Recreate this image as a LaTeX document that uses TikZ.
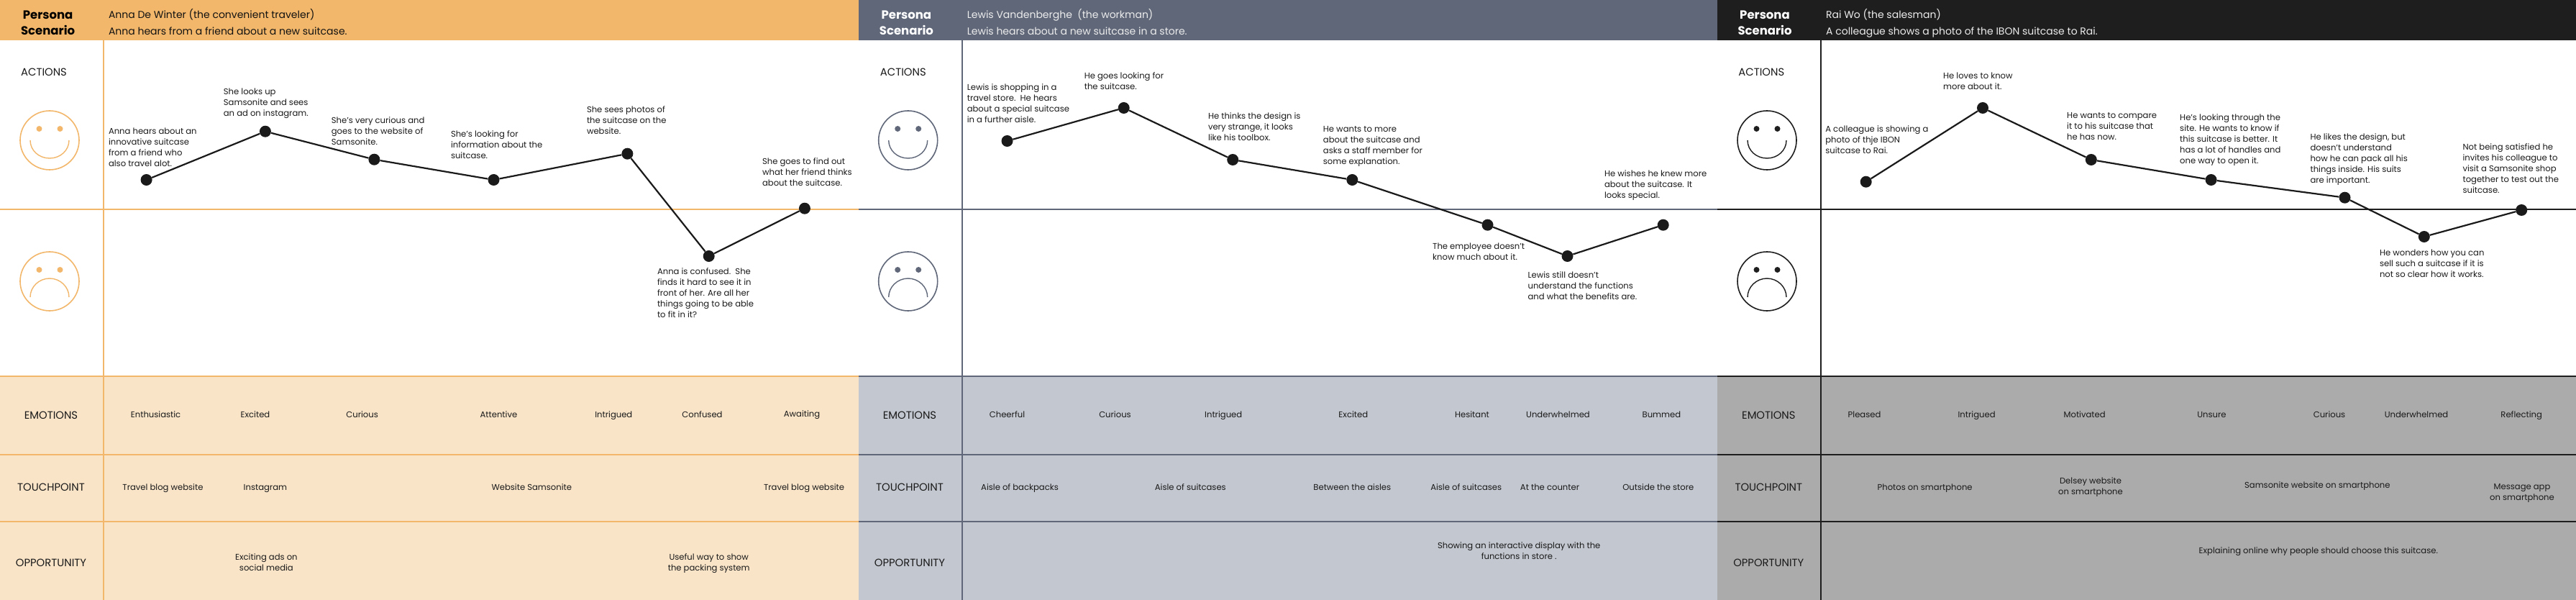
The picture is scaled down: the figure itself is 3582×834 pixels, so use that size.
\documentclass[tikz,border=0pt]{standalone}
\usepackage{fontspec}
\setmainfont{Poppins}
\definecolor{oMain}{HTML}{F2B76A}
\definecolor{oLight}{HTML}{F9E4C8}
\definecolor{gMain}{HTML}{5F6779}
\definecolor{gLight}{HTML}{C3C7CF}
\definecolor{kMain}{HTML}{1E1E1E}
\definecolor{kLight}{HTML}{ABABAB}
\definecolor{ink}{HTML}{1A1A1A}
\tikzset{
  txt/.style={anchor=north west,inner sep=0pt,align=left,text=ink,font=\fontsize{11.6}{15}\selectfont,execute at begin node=\strut},
  ctr/.style={anchor=center,inner sep=0pt,align=center,text=ink,font=\fontsize{11.6}{15}\selectfont,execute at begin node=\strut,execute at end node=\strut},
  rowlabel/.style={anchor=center,inner sep=0pt,align=center,text=ink,font=\fontsize{14.8}{18}\selectfont},
  perso/.style={anchor=center,inner sep=0pt,font=\fontsize{16.5}{20}\selectfont\bfseries,execute at begin node=\strut},
  headtxt/.style={anchor=west,inner sep=0pt,font=\fontsize{14}{18}\selectfont,execute at begin node=\strut},
  dot/.style={circle,fill=ink,inner sep=0pt,minimum size=16pt},
  conn/.style={draw=ink,line width=2.2pt},
  grid/.style={line width=2.2pt},
  vgrid/.style={line width=1.5pt},
  facering/.style={circle,draw,fill=white,line width=1.6pt,inner sep=0pt,minimum size=82pt},
  eye/.style={circle,inner sep=0pt,minimum size=8pt},
  mouth/.style={line width=1.4pt}
}
\newcommand{\jpanel}[5]{%
  \fill[#5] (#1,523) rectangle (#2,834);
  \fill[#4] (#1,0) rectangle (#2,56);
  \draw[vgrid,#4] (#3,56) -- (#3,834);
  \foreach \yy in {291,523,632,725} {\draw[grid,#4] (#1,\yy) -- (#2,\yy);}
}
\newcommand{\faces}[3]{%
  \begin{scope}[shift={(#1,0)}]
    \node[facering,draw=#2] (#3hA) at (0,195) {};
    \node[eye,fill=#2] (#3eA) at (-14.5,179) {};
    \node[eye,fill=#2] (#3eB) at (14.5,179) {};
    \draw[mouth,#2] (-27,195) .. controls (-27,209) and (-15,220) .. (0,220) .. controls (15,220) and (27,209) .. (27,195);
    \node[facering,draw=#2] (#3hB) at (0,391) {};
    \node[eye,fill=#2] (#3eC) at (-14.5,375) {};
    \node[eye,fill=#2] (#3eD) at (14.5,375) {};
    \draw[mouth,#2] (-27,413) .. controls (-27,399) and (-15,387) .. (0,387) .. controls (15,387) and (27,399) .. (27,413);
  \end{scope}
}
\newcommand{\labels}[8]{%
  \node[perso,text=#4] (#8pe) at (#1,22.5) {Persona};
  \node[perso,text=#4] (#8sc) at (#1,44.5) {Scenario};
  \node[headtxt,text=#4!85!gray] (#8hA) at (#5,22) {#6};
  \node[headtxt,text=#4!85!gray] (#8hB) at (#5,45) {#7};
  \node[rowlabel] (#8ac) at (#2,100) {ACTIONS};
  \node[rowlabel] (#8em) at (#3,577) {EMOTIONS};
  \node[rowlabel] (#8to) at (#3,677) {TOUCHPOINT};
  \node[rowlabel] (#8op) at (#3,782) {OPPORTUNITY};
}
\begin{document}
\begin{tikzpicture}[x=1pt,y=-1pt]
\useasboundingbox (0,0) rectangle (3582,834);
\fill[white] (0,0) rectangle (3582,834);
\jpanel{0}{1194}{144}{oMain}{oLight}
\jpanel{1194}{2388}{1338}{gMain}{gLight}
\jpanel{2388}{3582}{2532}{kMain}{kLight}
\faces{69}{oMain}{fa}
\faces{1262.7}{gMain}{fb}
\faces{2457}{kMain}{fc}
\labels{66.6}{61}{71}{black}{150.8}{Anna De Winter (the convenient traveler)}{Anna hears from a friend about a new suitcase.}{la}
\labels{1260.4}{1255.8}{1265}{white}{1344.6}{Lewis Vandenberghe\ \ (the workman)}{Lewis hears about a new suitcase in a store.}{lb}
\labels{2454}{2449.3}{2459.3}{white}{2538.9}{Rai Wo (the salesman)}{A colleague shows a photo of the IBON suitcase to Rai.}{lc}

% panel 1 curve
\node[dot] (a1) at (203.6,250) {};
\node[dot] (a2) at (368.9,182.7) {};
\node[dot] (a3) at (520.4,221.7) {};
\node[dot] (a4) at (686.5,250) {};
\node[dot] (a5) at (872.4,213.7) {};
\node[dot] (a6) at (985.7,356) {};
\node[dot] (a7) at (1118.9,289.7) {};
\draw[conn] (a1)--(a2); \draw[conn] (a2)--(a3); \draw[conn] (a3)--(a4); \draw[conn] (a4)--(a5); \draw[conn] (a5)--(a6); \draw[conn] (a6)--(a7);
\node[txt] (at1) at (150.8,177.5) {Anna hears about an\\innovative suitcase\\from a friend who\\also travel alot.};
\node[txt] (at2) at (310.7,122.5) {She looks up\\Samsonite and sees\\an ad on instagram.};
\node[txt] (at3) at (460.7,162.5) {She's very curious and\\goes to the website of\\Samsonite.};
\node[txt] (at4) at (626.8,181.5) {She's looking for\\information about the\\suitcase.};
\node[txt] (at5) at (815.8,147.5) {She sees photos of\\the suitcase on the\\website.};
\node[txt] (at6) at (913.8,372.5) {Anna is confused.\ \ She\\finds it hard to see it in\\front of her. Are all her\\things going to be able\\to fit in it?};
\node[txt] (at7) at (1059.9,219.2) {She goes to find out\\what her friend thinks\\about the suitcase.};
\node[ctr] (ae1) at (216.6,577) {Enthusiastic};
\node[ctr] (ae2) at (355,577) {Excited};
\node[ctr] (ae3) at (503.6,577) {Curious};
\node[ctr] (ae4) at (693.4,577) {Attentive};
\node[ctr] (ae5) at (853.3,577) {Intrigued};
\node[ctr] (ae6) at (976.5,577) {Confused};
\node[ctr] (ae7) at (1115,576) {Awaiting};
\node[ctr] (ap1) at (226.5,678) {Travel blog website};
\node[ctr] (ap2) at (368.9,678) {Instagram};
\node[ctr] (ap3) at (739.3,678) {Website Samsonite};
\node[ctr] (ap4) at (1118.1,678) {Travel blog website};
\node[ctr] (ao1) at (370.4,783.5) {Exciting ads on\\social media};
\node[ctr] (ao2) at (985.7,783.5) {Useful way to show\\the packing system};

% panel 2 curve
\node[dot] (b1) at (1400.5,196) {};
\node[dot] (b2) at (1562.7,150) {};
\node[dot] (b3) at (1714.2,222) {};
\node[dot] (b4) at (1880.3,250) {};
\node[dot] (b5) at (2068.5,312.7) {};
\node[dot] (b6) at (2179.5,356) {};
\node[dot] (b7) at (2312.7,312.7) {};
\draw[conn] (b1)--(b2); \draw[conn] (b2)--(b3); \draw[conn] (b3)--(b4); \draw[conn] (b4)--(b5); \draw[conn] (b5)--(b6); \draw[conn] (b6)--(b7);
\node[txt] (bt1) at (1344.6,116.5) {Lewis is shopping in a\\travel store.\ \ He hears\\about a special suitcase\\in a further aisle.};
\node[txt] (bt2) at (1507.6,100.5) {He goes looking for\\the suitcase.};
\node[txt] (bt3) at (1679.8,156.2) {He thinks the design is\\very strange, it looks\\like his toolbox.};
\node[txt] (bt4) at (1839.7,175.5) {He wants to more\\about the suitcase and\\asks a staff member for\\some explanation.};
\node[txt] (bt5) at (1992,337.5) {The employee doesn't\\know much about it.};
\node[txt] (bt6) at (2124.4,377.5) {Lewis still doesn't\\understand the functions\\and what the benefits are.};
\node[txt] (bt7) at (2230.8,236.5) {He wishes he knew more\\about the suitcase. It\\looks special.};
\node[ctr] (be1) at (1400.5,577) {Cheerful};
\node[ctr] (be2) at (1550.5,577) {Curious};
\node[ctr] (be3) at (1701.2,577) {Intrigued};
\node[ctr] (be4) at (1881.8,577) {Excited};
\node[ctr] (be5) at (2047,577) {Hesitant};
\node[ctr] (be6) at (2166.5,577) {Underwhelmed};
\node[ctr] (be7) at (2310.4,577) {Bummed};
\node[ctr] (bp1) at (1418,678) {Aisle of backpacks};
\node[ctr] (bp2) at (1655.3,678) {Aisle of suitcases};
\node[ctr] (bp3) at (1880.3,678) {Between the aisles};
\node[ctr] (bp4) at (2038.7,678) {Aisle of suitcases};
\node[ctr] (bp5) at (2155,678) {At the counter};
\node[ctr] (bp6) at (2305.8,678) {Outside the store};
\node[ctr] (bo1) at (2112.2,767.5) {Showing an interactive display with the\\functions in store .};

% panel 3 curve
\node[dot] (c1) at (2594.7,252.7) {};
\node[dot] (c2) at (2757,150) {};
\node[dot] (c3) at (2907.8,222) {};
\node[dot] (c4) at (3074.6,250) {};
\node[dot] (c5) at (3260.5,274.7) {};
\node[dot] (c6) at (3370.8,329) {};
\node[dot] (c7) at (3506.2,292) {};
\draw[conn] (c1)--(c2); \draw[conn] (c2)--(c3); \draw[conn] (c3)--(c4); \draw[conn] (c4)--(c5); \draw[conn] (c5)--(c6); \draw[conn] (c6)--(c7);
\node[txt] (ct1) at (2538.1,174.5) {A colleague is showing a\\photo of thje IBON\\suitcase to Rai.};
\node[txt] (ct2) at (2701.9,100.5) {He loves to know\\more about it.};
\node[txt] (ct3) at (2874,156.5) {He wants to compare\\it to his suitcase that\\he has now.};
\node[txt] (ct4) at (3031,158.5) {He's looking through the\\site. He wants to know if\\this suitcase is better. It\\has a lot of handles and\\one way to open it.};
\node[txt] (ct5) at (3212.3,185.5) {He likes the design, but\\doesn't understand\\how he can pack all his\\things inside. His suits\\are important.};
\node[txt] (ct6) at (3308.8,346.5) {He wonders how you can\\sell such a suitcase if it is\\not so clear how it works.};
\node[txt] (ct7) at (3424.3,199.5) {Not being satisfied he\\invites his colleague to\\visit a Samsonite shop\\together to test out the\\suitcase.};
\node[ctr] (ce1) at (2592.5,577) {Pleased};
\node[ctr] (ce2) at (2748.6,577) {Intrigued};
\node[ctr] (ce3) at (2898.6,577) {Motivated};
\node[ctr] (ce4) at (3075.4,577) {Unsure};
\node[ctr] (ce5) at (3239,577) {Curious};
\node[ctr] (ce6) at (3360,577) {Underwhelmed};
\node[ctr] (ce7) at (3506.2,577) {Reflecting};
\node[ctr] (cp1) at (2676.6,678) {Photos on smartphone};
\node[ctr] (cp2) at (2907,677.5) {Delsey website\\on smartphone};
\node[ctr] (cp3) at (3222.3,675) {Samsonite website on smartphone};
\node[ctr] (cp4) at (3507,685.8) {Message app\\on smartphone};
\node[ctr] (co1) at (3223.8,766) {Explaining online why people should choose this suitcase.};
\end{tikzpicture}
\end{document}
